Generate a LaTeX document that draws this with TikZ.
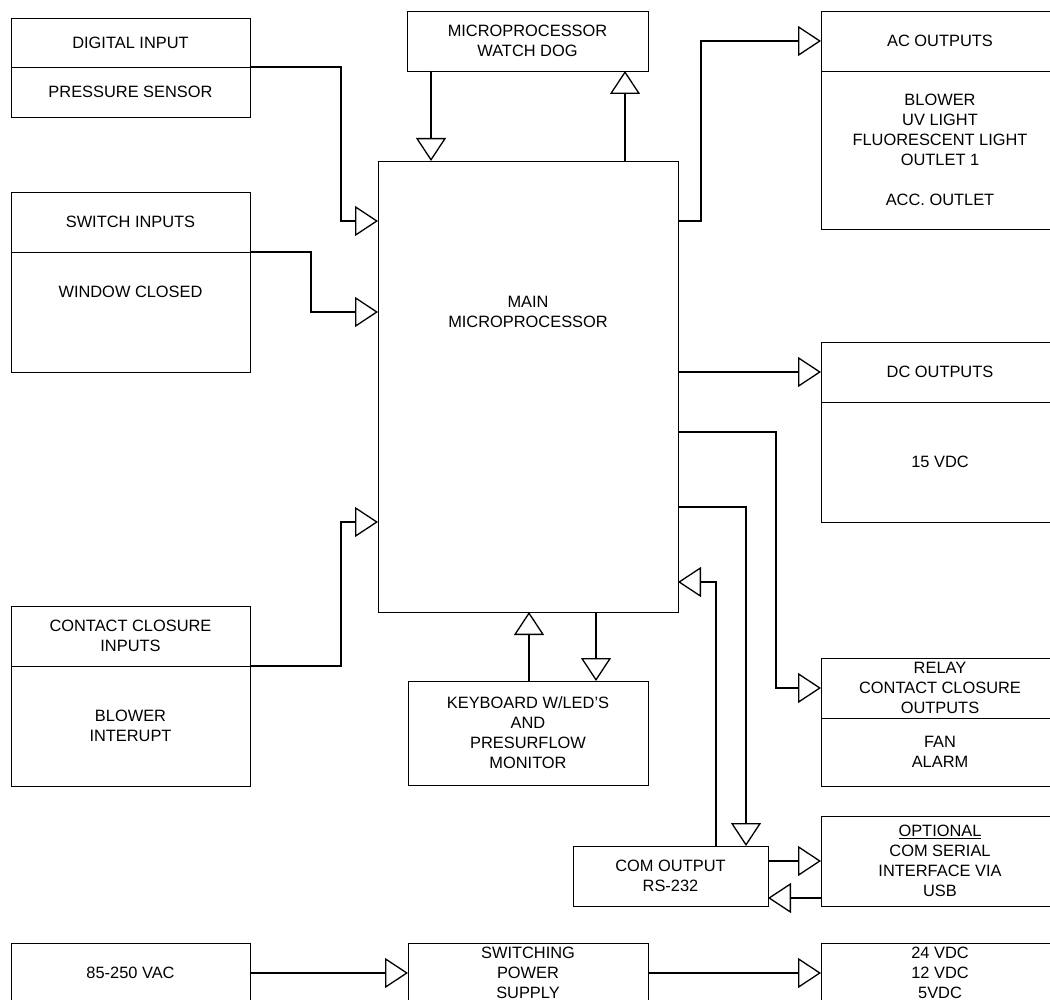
\documentclass[tikz,border=0pt]{standalone}
\usepackage{fontspec}
\setmainfont{Liberation Sans}
\usetikzlibrary{positioning, arrows.meta}

\begin{document}
\begin{tikzpicture}
    [x=1pt, y=-1pt, node distance=0pt,
      every node/.style={font=\fontsize{16.4}{20}\selectfont, align=center},
      box/.style={draw, line width=0.9pt, inner sep=0pt, outer sep=0pt,
        minimum width=239pt, anchor=north west},
      conn/.style={line width=1.3pt, -{Triangle[open, length=23pt, width=30pt]}}]

    \useasboundingbox (0,0) rectangle (1050,1000);

    \node (din) [box, minimum height=49pt] at (11,18) {DIGITAL INPUT};
    \node (dinb) [box, anchor=north, minimum height=50pt, below=of din]
    {PRESSURE SENSOR};
    \node (swi) [box, minimum height=60pt] at (11,192) {SWITCH INPUTS};
    \node (swib) [box, anchor=north, minimum height=120pt, below=of swi]
    {WINDOW CLOSED\\~\\~};
    \node (cci) [box, minimum height=60pt] at (11,606)
    {CONTACT CLOSURE\\
      INPUTS};
    \node (ccib) [box, anchor=north, minimum height=120pt, below=of cci]
    {BLOWER\\
      INTERUPT};
    \node (vac) [box, minimum height=60pt] at (11,943) {85-250 VAC};

    \node (wdog) [box, minimum width=241pt, minimum height=60pt] at (407,11)
    {MICROPROCESSOR\\
      WATCH DOG};
    \node (main) [box, minimum width=300pt, minimum height=451pt,
      label={[anchor=center, yshift=-151pt]north:MAIN\\MICROPROCESSOR}]
    at (378,161) {};
    \node (kbd) [box, minimum width=240pt, minimum height=104pt] at (408,681)
    {KEYBOARD W/LED'S\\
      AND\\
      PRESURFLOW\\
      MONITOR};
    \node (com) [box, minimum width=195pt, minimum height=60pt] at (573,846)
    {COM OUTPUT\\
      RS-232};
    \node (sps) [box, minimum width=240pt, minimum height=60pt] at (408,943)
    {SWITCHING\\
      POWER\\
      SUPPLY};

    \node (ac) [box, minimum width=238pt, minimum height=60pt] at (821,11)
    {AC OUTPUTS};
    \node (acb) [box, anchor=north, minimum width=238pt, minimum height=158pt,
      below=of ac]
    {BLOWER\\
      UV LIGHT\\
      FLUORESCENT LIGHT\\
      OUTLET 1\\
      ~\\
      ACC. OUTLET};
    \node (dc) [box, minimum width=238pt, minimum height=60pt] at (821,342)
    {DC OUTPUTS};
    \node (dcb) [box, anchor=north, minimum width=238pt, minimum height=120pt,
      below=of dc]
    {15 VDC};
    \node (rly) [box, minimum width=238pt, minimum height=60pt] at (821,658)
    {RELAY\\
      CONTACT CLOSURE\\
      OUTPUTS};
    \node (rlyb) [box, anchor=north, minimum width=238pt, minimum height=68pt,
      below=of rly]
    {FAN\\
      ALARM};
    \node (usb) [box, minimum width=238pt, minimum height=90pt] at (821,816)
    {\underline{OPTIONAL}\\
      COM SERIAL\\
      INTERFACE VIA\\
      USB};
    \node (vdc) [box, minimum width=238pt, minimum height=60pt] at (821,943)
    {24 VDC\\
      12 VDC\\
      5VDC};

    \draw[conn] (din.south east) -| (341,221) -- (main.west |- 0,221);
    \draw[conn] (swi.south east) -| (311,312) -- (main.west |- 0,312);
    \draw[conn] (cci.south east) -| (341,522) -- (main.west |- 0,522);
    \draw[conn] (wdog.south -| 431,0) -- (main.north -| 431,0);
    \draw[conn] (main.north -| 625,0) -- (wdog.south -| 625,0);
    \draw[conn] (main.east |- 0,221) -| (701,41) -- (ac.west);
    \draw[conn] (main.east |- 0,372) -- (dc.west);
    \draw[conn] (main.east |- 0,432) -| (776,688) -- (rly.west);
    \draw[conn] (main.east |- 0,507) -| (com.north -| 746,0);
    \draw[conn] (com.north -| 716,0) |- (main.east |- 0,582);
    \draw[conn] (kbd.north -| 529,0) -- (main.south -| 529,0);
    \draw[conn] (main.south -| 596,0) -- (kbd.north -| 596,0);
    \draw[conn] (com.east |- 0,861) -- (usb.west |- 0,861);
    \draw[conn] (usb.west |- 0,898) -- (com.east |- 0,898);
    \draw[conn] (vac.east) -- (sps.west);
    \draw[conn] (sps.east) -- (vdc.west);
  \end{tikzpicture}
\end{document}
